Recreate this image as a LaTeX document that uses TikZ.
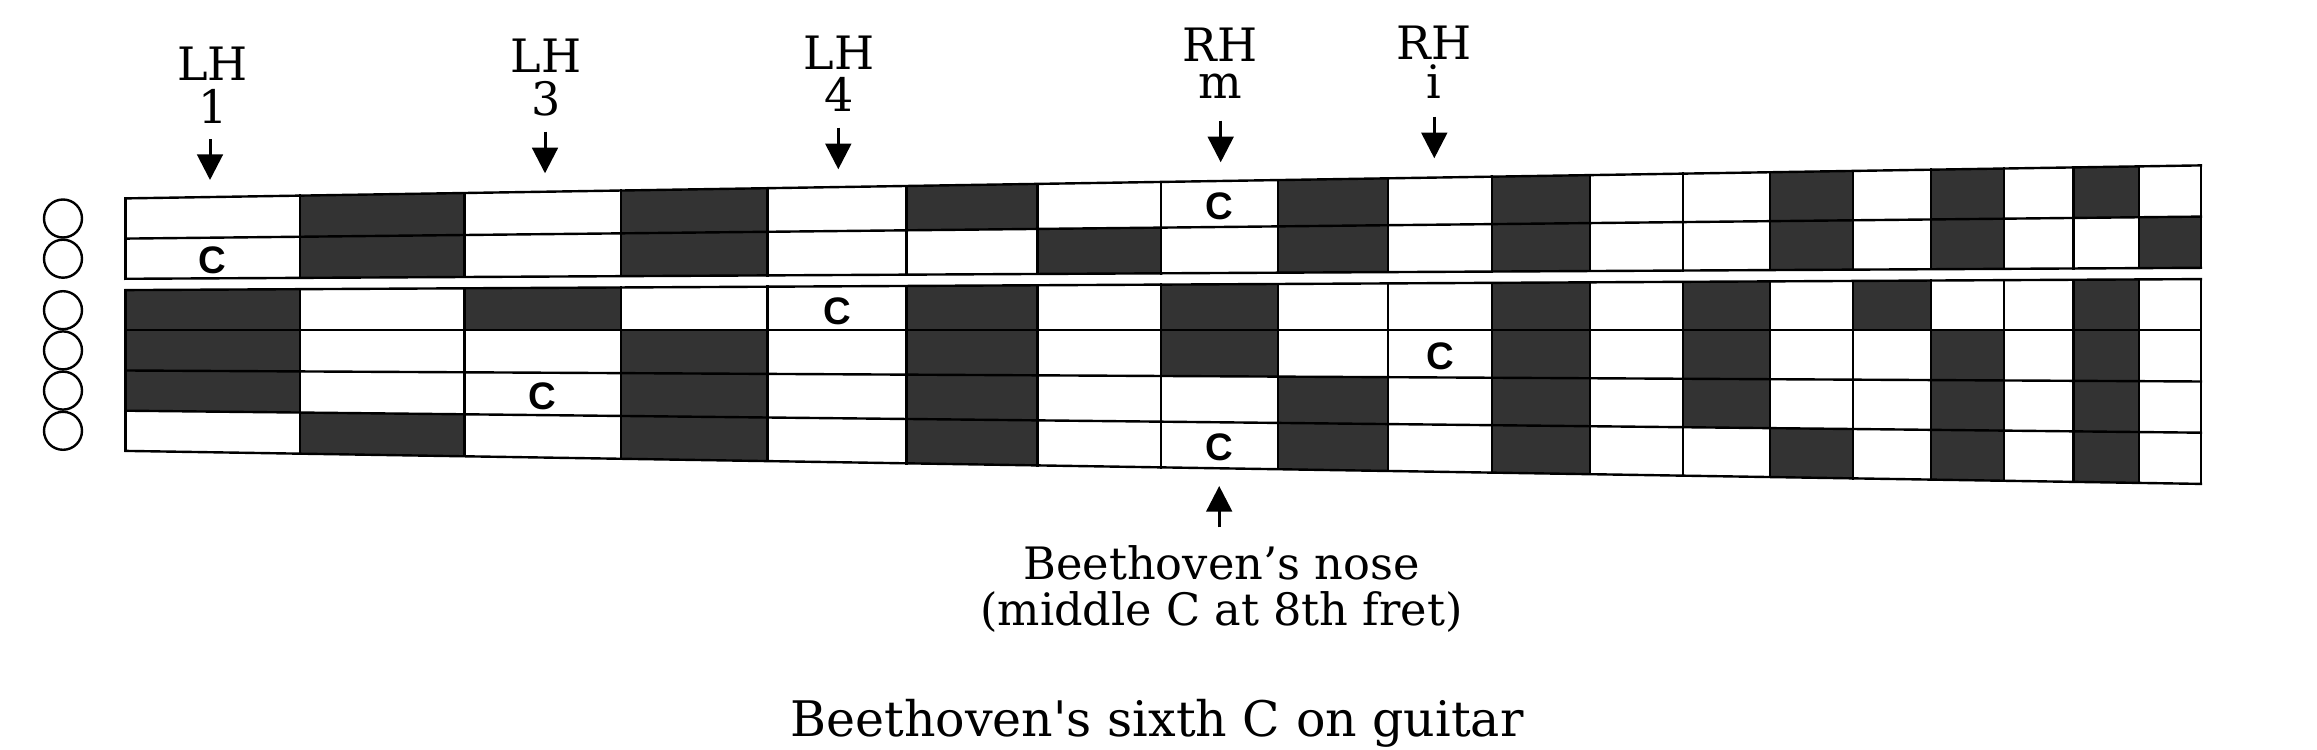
\documentclass[tikz,border=0pt]{standalone}
\usepackage{fontspec}
\setmainfont{DejaVu Serif}
\newfontfamily\csans{Liberation Sans}
\usetikzlibrary{arrows.meta}
\definecolor{cellgray}{RGB}{51,51,51}
\newcommand\fillfret[2]{%
  \fill[cellgray] ({fx(#2-1)},{by(#1,fx(#2-1))}) -- ({fx(#2)},{by(#1,fx(#2))}) -- ({fx(#2)},{by(#1+1,fx(#2))}) -- ({fx(#2-1)},{by(#1+1,fx(#2-1))}) -- cycle;}
\begin{document}
\begin{tikzpicture}[x=0.3pt,y=-0.3pt,
  declare function={
    fx(\n)=125.5+3115*(1-exp(-0.0577622650*\n));
    ss(\x)=40.2+((\x-125.5)/2075.5)*11;
    by(\i,\x)=319+(\i-3)*ss(\x)+(\i>2)*(11.3-ss(\x));
  },
  gridline/.style={line width=0.72pt,line cap=rect},
  opencirc/.style={circle,draw,line width=0.72pt,minimum size=11.4pt,inner sep=0pt},
  handlbl/.style={font=\fontsize{13.8}{#1}\selectfont,inner sep=0pt,anchor=south,align=center},
  noselbl/.style={font=\fontsize{13.4}{14}\selectfont,inner sep=0pt,anchor=base},
  titlelbl/.style={font=\fontsize{14.7}{16}\selectfont,inner sep=0pt,anchor=base},
  cmark/.style={font=\csans\bfseries\fontsize{11.5}{12}\selectfont,inner sep=0pt},
  arr/.style={line width=0.9pt,-{Triangle[length=7.7pt,width=7.7pt]}},
]
\useasboundingbox (0,0) rectangle (2317,750);

% dark cells (sharps / flats)
\foreach \n in {2,4,6,9,11,14,16,18} {\fillfret{0}{\n}}
\foreach \n in {2,4,7,9,11,14,16,19} {\fillfret{1}{\n}}
\foreach \n in {1,3,6,8,11,13,15,18} {\fillfret{3}{\n}}
\foreach \n in {1,4,6,8,11,13,16,18} {\fillfret{4}{\n}}
\foreach \n in {1,4,6,9,11,13,16,18} {\fillfret{5}{\n}}
\foreach \n in {2,4,6,9,11,14,16,18} {\fillfret{6}{\n}}

% string boundary lines
\foreach \i in {0,...,7} {\draw[gridline] (125.5,{by(\i,125.5)}) -- (2201,{by(\i,2201)});}
% frets
\foreach \n in {0,...,19} {
  \draw[gridline] ({fx(\n)},{by(0,fx(\n))}) -- ({fx(\n)},{by(2,fx(\n))});
  \draw[gridline] ({fx(\n)},{by(3,fx(\n))}) -- ({fx(\n)},{by(7,fx(\n))});
}

% open strings
\foreach \k/\t in {1/0,2/1,3/3,4/4,5/5,6/6}
  {\node[opencirc] (open\k) at (63,{(by(\t,125.5)+by(\t+1,125.5))/2}) {};}

% C marks
\foreach \k/\t/\n in {1/0/8, 2/1/1, 3/3/5, 4/4/10, 5/5/3, 6/6/8} {
  \pgfmathsetmacro\xc{(fx(\n-1)+fx(\n))/2}
  \node[cmark] (cmark\k) at (\xc,{(by(\t,\xc)+by(\t+1,\xc))/2+2.5}) {C};
}

% finger labels
\node[handlbl=12.9pt] (lhone) at (212.7,124) {LH\\1};
\node[handlbl=13pt] (lhthree) at (546,116.7) {LH\\3};
\node[handlbl=12.5pt] (lhfour) at (839,111.7) {LH\\4};
\node[handlbl=11pt] (rhm) at (1220,99.3) {RH\\m};
\node[handlbl=11.8pt] (rhi) at (1434,99.3) {RH\\i};

\coordinate (aones) at (210,139.3);   \coordinate (aonee) at (210,180);
\coordinate (athrees) at (545,131.7); \coordinate (athreee) at (545,173.3);
\coordinate (afours) at (838.3,127.7); \coordinate (afoure) at (838.3,169.3);
\coordinate (ams) at (1220.7,120.7);  \coordinate (ame) at (1220.7,162.3);
\coordinate (ais) at (1434.3,116.7);  \coordinate (aie) at (1434.3,158.3);
\draw[arr] (aones) -- (aonee);
\draw[arr] (athrees) -- (athreee);
\draw[arr] (afours) -- (afoure);
\draw[arr] (ams) -- (ame);
\draw[arr] (ais) -- (aie);

% nose
\coordinate (noses) at (1219.2,527.3); \coordinate (nosee) at (1219.2,486);
\draw[arr] (noses) -- (nosee);
\node[noselbl] (noseone) at (1221.5,579.3) {Beethoven’s nose};
\node[noselbl] (nosetwo) at (1221.4,625) {(middle C at 8th fret)};

% title
\node[titlelbl] (title) at (1157,736) {Beethoven\textquotesingle s sixth C on guitar};
\end{tikzpicture}
\end{document}
